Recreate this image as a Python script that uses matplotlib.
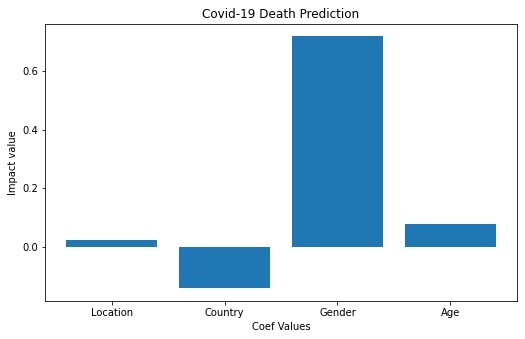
import matplotlib
matplotlib.use("Agg")
import matplotlib.pyplot as plt

features = ["Location", "Country", "Gender", "Age"]
coefs = [0.024, -0.142, 0.719, 0.078]

DPI = 72
fig = plt.figure(figsize=(525 / DPI, 339 / DPI), dpi=DPI)
ax = fig.add_axes([45 / 525, 38 / 339, 472 / 525, 277.5 / 339])

ax.bar(features, coefs, color="#1f77b4")
ax.set_title("Covid-19 Death Prediction", fontsize=12)
ax.set_xlabel("Coef Values", fontsize=10)
ax.set_ylabel("Impact value", fontsize=10)
ax.tick_params(labelsize=10)

fig.savefig("out.png", dpi=DPI)
